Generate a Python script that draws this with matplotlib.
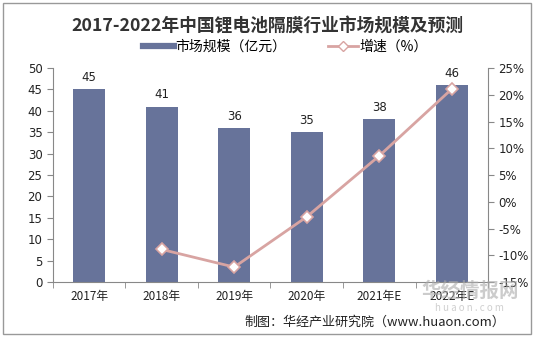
import matplotlib.pyplot as plt
import numpy as np
from matplotlib.lines import Line2D
from matplotlib.patches import Rectangle

plt.rcParams['font.family'] = ['Noto Sans CJK SC', 'DejaVu Sans']

years = ['2017年', '2018年', '2019年', '2020年', '2021年E', '2022年E']
market = [45, 41, 36, 35, 38, 46]
growth_years = [1, 2, 3, 4, 5]
growth = [-8.9, -12.2, -2.8, 8.6, 21.1]

bar_color = '#67739a'
line_color = '#d8a4a2'
axis_color = '#888888'

fig = plt.figure(figsize=(5.34, 3.37), dpi=100)
fig.patches.append(Rectangle((0.006, 0.01), 0.988, 0.98, transform=fig.transFigure,
                             fill=False, edgecolor='#999999', linewidth=1))

ax = fig.add_axes([0.099, 0.163, 0.815, 0.635])
x = np.arange(len(years))
ax.bar(x, market, width=0.44, color=bar_color, zorder=2)
for xi, v in zip(x, market):
    ax.text(xi, v + 1.2, str(v), ha='center', va='bottom', fontsize=8.5, color='#222222',
            family='DejaVu Sans')

ax.set_xlim(-0.5, 5.5)
ax.set_ylim(0, 50)
ax.set_yticks(range(0, 51, 5))
ax.set_xticks(x)
ax.set_xticklabels(years, fontsize=8.5, color='#222222')
ax.set_xticks(np.arange(-0.5, 6, 1), minor=True)
ax.tick_params(axis='x', which='major', length=0, pad=6)
ax.tick_params(axis='x', which='minor', length=4, color=axis_color)
ax.tick_params(axis='y', length=4, color=axis_color, labelsize=8.5, labelcolor='#222222')
for lab in ax.get_yticklabels():
    lab.set_family('DejaVu Sans')
for s in ['top', 'right']:
    ax.spines[s].set_visible(False)
ax.spines['left'].set_color(axis_color)
ax.spines['bottom'].set_color(axis_color)

ax2 = ax.twinx()
ax2.plot(growth_years, growth, color=line_color, linewidth=2, marker='D', markersize=6,
         markerfacecolor='white', markeredgecolor=line_color, markeredgewidth=1.2, zorder=3)
ax2.set_ylim(-15, 25)
ax2.set_yticks(range(-15, 26, 5))
ax2.set_yticklabels([f'{t}%' for t in range(-15, 26, 5)], family='DejaVu Sans')
ax2.tick_params(axis='y', length=4, color=axis_color, labelsize=8.5, labelcolor='#222222')
for s in ['top', 'left', 'bottom']:
    ax2.spines[s].set_visible(False)
ax2.spines['right'].set_color(axis_color)

fig.text(0.5, 0.925, '2017-2022年中国锂电池隔膜行业市场规模及预测', ha='center', va='center',
         fontsize=12.8, fontweight='bold', color='#333333')

handles = [Line2D([0], [0], color=bar_color, linewidth=4.5),
           Line2D([0], [0], color=line_color, linewidth=2, marker='D', markersize=5,
                  markerfacecolor='white', markeredgecolor=line_color)]
fig.legend(handles, ['市场规模（亿元）', '增速（%）'], loc='center', bbox_to_anchor=(0.535, 0.862),
           ncol=2, frameon=False, fontsize=10, handlelength=2.2, columnspacing=3.0,
           handletextpad=0.1)

fig.text(0.946, 0.045, '制图：华经产业研究院（www.huaon.com）', ha='right', va='center',
         fontsize=9.4, color='#222222')
fig.text(0.88, 0.135, '华经情报网', ha='center', va='center', fontsize=14,
         fontweight='bold', color='#aaaaaa', alpha=0.6)
fig.text(0.88, 0.085, 'h u a o n . c o m', ha='center', va='center', fontsize=7,
         color='#bbbbbb', alpha=0.7)

fig.savefig('out.png', dpi=100)
